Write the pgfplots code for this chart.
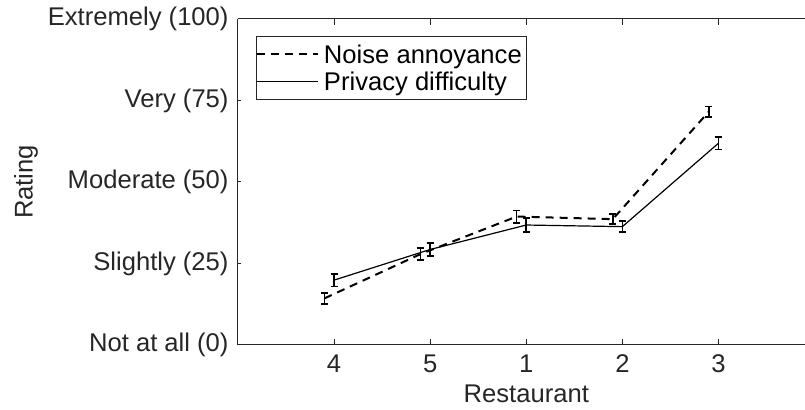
\documentclass[border=0pt]{standalone}
\usepackage{fontspec}
\setmainfont{Liberation Sans}
\usepackage{pgfplots}
\pgfplotsset{compat=1.18}
\definecolor{mgray}{HTML}{262626}
\begin{document}
\begin{tikzpicture}
\begin{axis}[
  scale only axis, width=283.5pt, height=163pt,
  xmin=0, xmax=5.9, ymin=0, ymax=100,
  clip=false,
  font=\fontsize{12.8}{15}\selectfont,
  xtick={1,2,3,4,5}, xticklabels={4,5,1,2,3},
  ytick={0,25,50,75,100},
  yticklabels={Not at all (0),Slightly (25),Moderate (50),Very (75),Extremely (100)},
  xtick pos=both, ytick pos=left, xticklabel pos=bottom, tick align=inside,
  axis line style={draw=none},
  xtick style={draw=mgray, line width=0.5pt, /pgfplots/major tick length=3pt},
  ytick style={draw=mgray, line width=0.5pt, /pgfplots/major tick length=1.7pt},
  ticklabel style={text=mgray},
  xticklabel style={anchor=base, yshift=-14pt},
  yticklabel style={xshift=-1.2pt},
  xlabel={Restaurant}, ylabel={Rating},
  label style={text=mgray},
  xlabel style={at={(axis description cs:0.5085,-0.1779)}, anchor=base},
  ylabel style={at={(axis description cs:-0.374,0.5)}, anchor=center, rotate=0},
  legend style={at={(rel axis cs:0,1)}, anchor=north west, xshift=9pt, yshift=-8.5pt,
    draw=mgray, line width=0.5pt, inner xsep=0pt, inner ysep=2.25pt,
    font=\fontsize{12.8}{15}\selectfont, text=black, row sep=0pt,
    nodes={inner xsep=2.25pt, inner ysep=0pt, text height=11.25pt, text depth=2.25pt}},
  legend cell align=left,
  legend image code/.code={\draw[#1] (0pt,0pt) -- (30.5pt,0pt);},
]
\draw[mgray, line width=0.5pt] (rel axis cs:0,1) -- (rel axis cs:0,0) -- (rel axis cs:1,0);
\draw[mgray, line width=0.5pt] (rel axis cs:0,1) -- (rel axis cs:1,1);
\coordinate (bl) at (rel axis cs:0,0);

\addplot[black, line width=1pt, dash pattern=on 4pt off 3pt,
  error bars/.cd, y dir=both, y explicit, error mark=-,
  error bar style={solid, line width=0.8pt},
  error mark options={solid, rotate=90, mark size=1.75pt, line width=0.8pt}]
  table[x=x, y=y, y error=e] {
x y e
0.9 14.3 1.7
1.9 27.9 1.8
2.9 39.4 1.9
3.9 38.6 1.5
4.9 71.6 1.6
};
\addlegendentry{Noise annoyance}

\addplot[black, line width=0.6pt,
  error bars/.cd, y dir=both, y explicit, error mark=-,
  error bar style={solid, line width=0.8pt},
  error mark options={solid, rotate=90, mark size=1.75pt, line width=0.8pt}]
  table[x=x, y=y, y error=e] {
x y e
1 19.9 1.9
2 29.3 2.0
3 36.8 2.2
4 36.3 1.7
5 61.9 1.9
};
\addlegendentry{Privacy difficulty}
\end{axis}
\pgfresetboundingbox
\path[use as bounding box] (bl) ++(-119pt,-32.5pt) rectangle ++(402.5pt,205pt);
\end{tikzpicture}
\end{document}
